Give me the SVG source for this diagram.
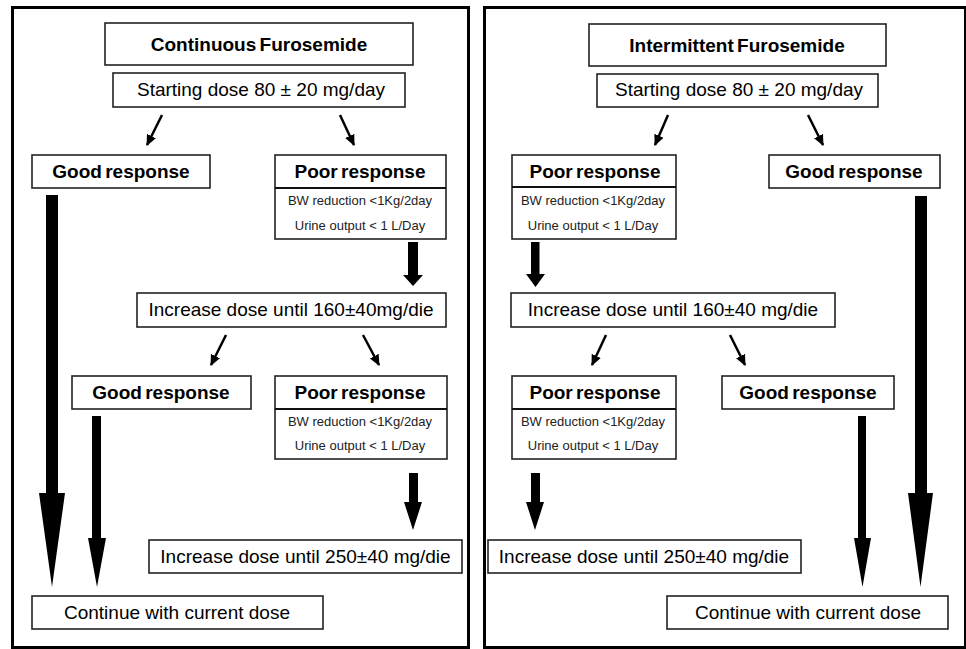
<svg xmlns="http://www.w3.org/2000/svg" width="966" height="649" viewBox="0 0 966 649">
<style>
.panel{fill:#fff;stroke:#000;stroke-width:3}
.box{fill:#fff;stroke:#222;stroke-width:1.6}
.div{stroke:#111;stroke-width:2}
.t{font-family:"Liberation Sans",Arial,sans-serif;font-size:19px;fill:#000;text-anchor:middle}
.b{font-weight:bold;word-spacing:-2px}
.s{font-family:"Liberation Sans",Arial,sans-serif;font-size:13px;fill:#222;text-anchor:middle}
.thin{stroke:#000;stroke-width:2.5;fill:none;marker-end:url(#ah)}
.blk{fill:#000}
</style>
<defs>
<marker id="ah" markerUnits="userSpaceOnUse" markerWidth="12" markerHeight="12" viewBox="0 0 12 12" refX="10" refY="6" orient="auto">
<path d="M0,1 L11,6 L0,11 Z" fill="#000"/>
</marker>
</defs>
<rect x="0" y="0" width="966" height="649" fill="#fff"/>
<g id="panel-left"><rect class="panel" x="12.5" y="7.5" width="456" height="640"/></g>
<g id="panel-right"><rect class="panel" x="484.5" y="7.5" width="481" height="640"/></g>

<g id="connectors">
<!-- left panel -->
<line class="thin" x1="162" y1="115" x2="147" y2="145"/>
<line class="thin" x1="340" y1="115" x2="354" y2="145"/>
<line class="thin" x1="226" y1="335" x2="211" y2="365"/>
<line class="thin" x1="363" y1="335" x2="379" y2="365"/>
<polygon class="blk" points="46,195 58,195 58,493 65,493 52,587 39,493 46,493"/>
<polygon class="blk" points="92,416 101,416 101,538 106,538 97,587 88,538 92,538"/>
<polygon class="blk" points="408,242 418,242 418,275 423,275 413,286 403,275 408,275"/>
<polygon class="blk" points="409,473 418,473 418,502 422,502 413,530 404,502 409,502"/>
<!-- right panel -->
<line class="thin" x1="668" y1="115" x2="655" y2="145"/>
<line class="thin" x1="808" y1="115" x2="823" y2="145"/>
<line class="thin" x1="606" y1="335" x2="592" y2="365"/>
<line class="thin" x1="730" y1="335" x2="745" y2="365"/>
<polygon class="blk" points="915,196 927,196 927,493 933,493 920.5,587 908,493 915,493"/>
<polygon class="blk" points="531,242 539.5,242 539.5,274 545,274 535.5,287 526,274 531,274"/>
<polygon class="blk" points="531,473 540,473 540,502 544,502 535,530 526,502 531,502"/>
<polygon class="blk" points="858,416 866,416 866,538 871,538 862.5,587 854,538 858,538"/>
</g>

<!-- left panel nodes -->
<g id="cont-title"><rect class="box" x="105" y="23" width="308" height="42"/><text class="t b" x="259" y="51">Continuous Furosemide</text></g>
<g id="cont-start"><rect class="box" x="113" y="73" width="292" height="34"/><text class="t" x="261" y="96">Starting dose 80 ± 20 mg/day</text></g>
<g id="cont-good1"><rect class="box" x="32" y="155" width="178" height="33"/><text class="t b" x="121" y="178">Good response</text></g>
<g id="cont-poor1"><rect class="box" x="275" y="155" width="171" height="84"/><line class="div" x1="275" y1="188" x2="446" y2="188"/><text class="t b" x="360" y="178">Poor response</text><text class="s" x="360" y="205">BW reduction &lt;1Kg/2day</text><text class="s" x="360" y="230">Urine output &lt; 1 L/Day</text></g>
<g id="cont-inc160"><rect class="box" x="137" y="293" width="309" height="34"/><text class="t" x="291" y="316">Increase dose until 160±40mg/die</text></g>
<g id="cont-good2"><rect class="box" x="72" y="376" width="179" height="33"/><text class="t b" x="161" y="399">Good response</text></g>
<g id="cont-poor2"><rect class="box" x="275" y="376" width="172" height="83"/><line class="div" x1="275" y1="409" x2="447" y2="409"/><text class="t b" x="360" y="399">Poor response</text><text class="s" x="360" y="426">BW reduction &lt;1Kg/2day</text><text class="s" x="360" y="450">Urine output &lt; 1 L/Day</text></g>
<g id="cont-inc250"><rect class="box" x="149" y="540" width="313" height="33"/><text class="t" x="305.5" y="563">Increase dose until 250±40 mg/die</text></g>
<g id="cont-continue"><rect class="box" x="32" y="596" width="291" height="33"/><text class="t" x="177" y="619">Continue with current dose</text></g>

<!-- right panel nodes -->
<g id="int-title"><rect class="box" x="589" y="24" width="297" height="42"/><text class="t b" x="737" y="52">Intermittent Furosemide</text></g>
<g id="int-start"><rect class="box" x="597" y="74" width="281" height="33"/><text class="t" x="739" y="96">Starting dose 80 ± 20 mg/day</text></g>
<g id="int-poor1"><rect class="box" x="512" y="155" width="164" height="84"/><line class="div" x1="512" y1="187" x2="676" y2="187"/><text class="t b" x="595" y="178">Poor response</text><text class="s" x="593" y="205">BW reduction &lt;1Kg/2day</text><text class="s" x="593" y="230">Urine output &lt; 1 L/Day</text></g>
<g id="int-good1"><rect class="box" x="769" y="155" width="171" height="33"/><text class="t b" x="854" y="178">Good response</text></g>
<g id="int-inc160"><rect class="box" x="511" y="293" width="324" height="34"/><text class="t" x="673" y="316">Increase dose until 160±40 mg/die</text></g>
<g id="int-poor2"><rect class="box" x="512" y="376" width="164" height="83"/><line class="div" x1="512" y1="409" x2="676" y2="409"/><text class="t b" x="595" y="399">Poor response</text><text class="s" x="593" y="426">BW reduction &lt;1Kg/2day</text><text class="s" x="593" y="450">Urine output &lt; 1 L/Day</text></g>
<g id="int-good2"><rect class="box" x="722" y="376" width="172" height="33"/><text class="t b" x="808" y="399">Good response</text></g>
<g id="int-inc250"><rect class="box" x="488" y="540" width="313" height="33"/><text class="t" x="644" y="563">Increase dose until 250±40 mg/die</text></g>
<g id="int-continue"><rect class="box" x="667" y="596" width="281" height="33"/><text class="t" x="808" y="619">Continue with current dose</text></g>
</svg>
